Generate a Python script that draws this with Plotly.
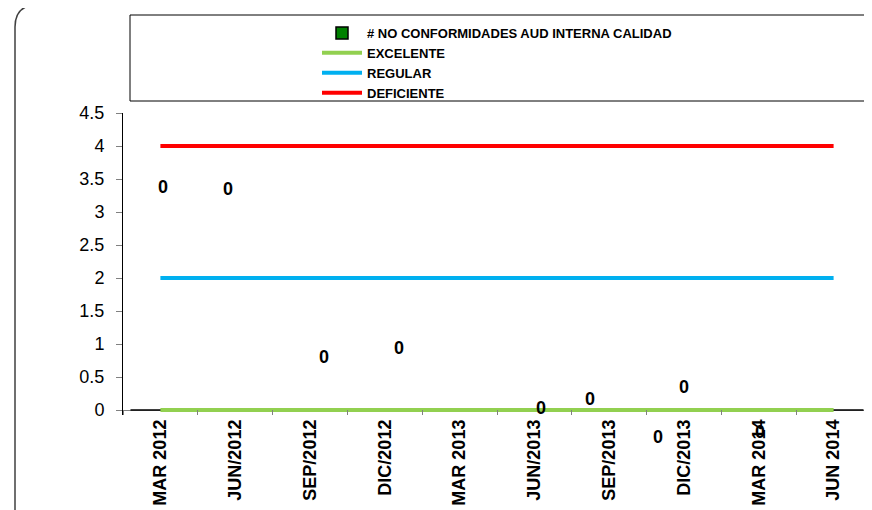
import plotly.graph_objects as go

categories = ["MAR 2012", "JUN/2012", "SEP/2012", "DIC/2012", "MAR 2013",
              "JUN/2013", "SEP/2013", "DIC/2013", "MAR 2014", "JUN 2014"]
no_conformidades = [0, 0, 0, 0, 0, 0, 0, 0, 0, 0]
excelente = [0] * 10
regular = [2] * 10
deficiente = [4] * 10

# data label positions as drawn in the source chart (category index, value)
label_x = [0.03, 0.90, 2.19, 3.19, 5.09, 5.74, 7.00, 6.65, 8.01]
label_y = [3.38, 3.35, 0.80, 0.94, 0.03, 0.17, 0.35, -0.41, -0.33]
label_text = ["0"] * 9

O = 8  # page body margin
W, H = 872 - O, 510 - O
L, R, T = 123 - O, 1, 113 - O
B = H - (415 - O)
PW, PH = W - L - R, H - T - B

def px(x):
    return (x - O - L) / PW

def py(y):
    return (H - B - (y - O)) / PH

FONT = "Liberation Sans, Arial, sans-serif"
xi = list(range(len(categories)))

YMAX = 4.5
YMIN = -YMAX * 302 / 297 + YMAX

fig = go.Figure()
fig.add_trace(go.Bar(x=xi, y=no_conformidades, name="# NO CONFORMIDADES AUD INTERNA CALIDAD",
                     marker=dict(color="#008000", line=dict(color="black", width=1.5))))
fig.add_trace(go.Scatter(x=xi, y=excelente, mode="lines", name="EXCELENTE",
                         line=dict(color="#92D050", width=4)))
fig.add_trace(go.Scatter(x=xi, y=regular, mode="lines", name="REGULAR",
                         line=dict(color="#00B0F0", width=4)))
fig.add_trace(go.Scatter(x=xi, y=deficiente, mode="lines", name="DEFICIENTE",
                         line=dict(color="#FF0000", width=4)))

# labels (some sit below the axis, so place them in y-domain units)
annotations = [
    dict(x=lx, y=(ly - YMIN) / (YMAX - YMIN), xref="x", yref="y domain", text=t,
         showarrow=False, xanchor="center", yanchor="middle",
         font=dict(family=FONT, size=18, color="black", weight="bold"))
    for lx, ly, t in zip(label_x, label_y, label_text)
]

r = 22
x0, y0, x1, y1 = 15, 5, 890, 530
path = (f"M {px(x0)},{py(y1)} L {px(x0)},{py(y0 + r)} "
        f"Q {px(x0)},{py(y0)} {px(x0 + r)},{py(y0)} "
        f"L {px(x1 - r)},{py(y0)} Q {px(x1)},{py(y0)} {px(x1)},{py(y0 + r)} "
        f"L {px(x1)},{py(y1)} Z")

fig.update_layout(
    width=W, height=H,
    margin=dict(l=L, r=R, t=T, b=B),
    paper_bgcolor="white", plot_bgcolor="white",
    font=dict(family=FONT, color="black"),
    showlegend=True,
    annotations=annotations,
    legend=dict(x=px(317), y=py(18), xanchor="left", yanchor="top",
                bgcolor="rgba(0,0,0,0)", borderwidth=0,
                font=dict(family=FONT, size=13, weight="bold"),
                tracegroupgap=0, itemwidth=40),
    shapes=[
        dict(type="path", path=path, xref="paper", yref="paper",
             line=dict(color="#404040", width=1.5), layer="below"),
        dict(type="rect", xref="paper", yref="paper",
             x0=px(130), x1=px(880), y0=py(101), y1=py(15),
             line=dict(color="black", width=1)),
    ],
    xaxis=dict(
        range=[-0.5, 9.5], tickmode="array", tickvals=xi, ticktext=categories,
        tickangle=-90, ticks="", showgrid=False, zeroline=False,
        showline=False,
        tickfont=dict(family=FONT, size=18, weight="bold"),
        minor=dict(tickmode="array", tickvals=[i - 0.5 for i in range(11)],
                   ticks="inside", ticklen=5, tickcolor="#808080", showgrid=False),
    ),
    yaxis=dict(
        range=[YMIN, YMAX], tickmode="array", tickvals=[0, 0.5, 1, 1.5, 2, 2.5, 3, 3.5, 4, 4.5],
        ticktext=["0", "0.5", "1", "1.5", "2", "2.5", "3", "3.5", "4", "4.5"],
        ticks="outside", ticklen=6, tickcolor="#808080", ticklabelstandoff=8,
        showgrid=False, zeroline=True, zerolinecolor="#808080", zerolinewidth=1,
        showline=True, linecolor="black", linewidth=1,
        tickfont=dict(family=FONT, size=18),
    ),
)

fig.write_html("out.html")
